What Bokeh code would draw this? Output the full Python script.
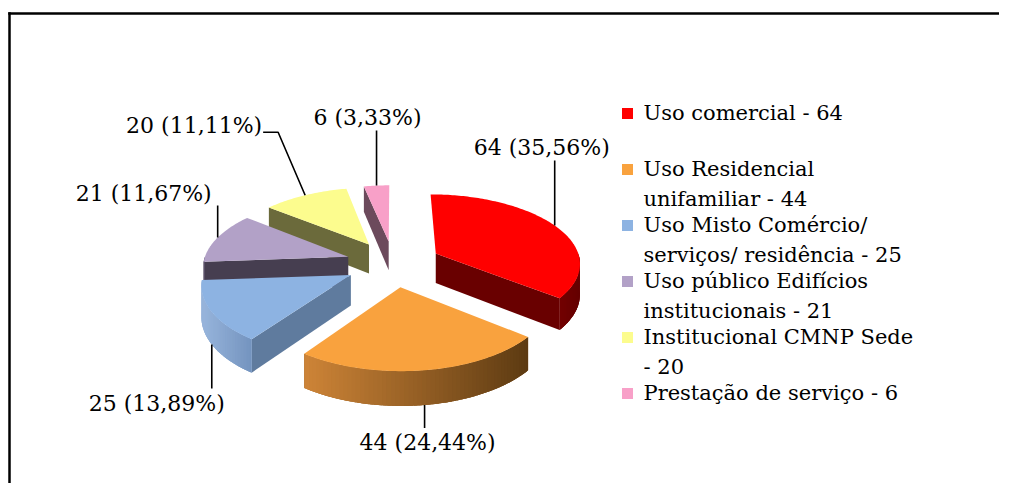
import math
from bokeh.plotting import figure
from bokeh.models import Range1d, ColumnDataSource
from bokeh.core.properties import value
from bokeh.embed import file_html
from bokeh.resources import INLINE

# ---------------- data ----------------
categories = ["Uso comercial", "Uso Residencial unifamiliar",
              "Uso Misto Comércio/ serviços/ residência",
              "Uso público Edifícios institucionais",
              "Institucional CMNP Sede", "Prestação de serviço"]
values = [64, 44, 25, 21, 20, 6]
legend_labels = ["Uso comercial - 64",
                 "Uso Residencial\nunifamiliar - 44",
                 "Uso Misto Comércio/\nserviços/ residência - 25",
                 "Uso público Edifícios\ninstitucionais - 21",
                 "Institucional CMNP Sede\n- 20",
                 "Prestação de serviço - 6"]
top_colors = ["#FF0000", "#F9A23E", "#8DB3E2", "#B2A1C7", "#FCFC8E", "#F8A0C8"]
radial_colors = ["#690000", "#7A4C1C", "#5F7B9E", "#463E50", "#6B6A3B", "#6C4A5C"]
outer_left = ["#720000", "#CD8437", "#98B5DC", "#5A5068", "#6B6A3B", "#6C4A5C"]
outer_right = ["#640000", "#5C3A12", "#7393BE", "#5A5068", "#6B6A3B", "#6C4A5C"]

# ---------------- layout ----------------
W, H = 999, 483
FONT = value("DejaVu Serif")
FS_LAB = "22px"
FS_LEG = "21px"
CX, CY = 393.0, 263.0
RX, RY = 145.0, 70.0
K = 0.12
EXPL = 0.33
DEPTH = 30.0

p = figure(width=W, height=H, x_range=Range1d(0, W), y_range=Range1d(H, 0),
           toolbar_location=None, output_backend="svg", min_border=0,
           x_axis_location=None, y_axis_location=None)
p.grid.visible = False
p.outline_line_color = None
p.background_fill_color = "white"

# frame (open to right/bottom as in picture)
p.segment(x0=[9, 9], y0=[H, 13], x1=[9, W], y1=[13, 13],
          line_color="black", line_width=2.5, line_cap="square")


def proj(u, v):
    s = 1 + K * v
    return CX + RX * u * s, CY + RY * v * s, s


def hex2rgb(h):
    h = h.lstrip("#")
    return tuple(int(h[i:i + 2], 16) for i in (0, 2, 4))


def lerp(c1, c2, t):
    a, b = hex2rgb(c1), hex2rgb(c2)
    return "#%02x%02x%02x" % tuple(int(round(a[i] + (b[i] - a[i]) * t)) for i in range(3))


total = float(sum(values))
slices = []
acc = 0.0
for i, v in enumerate(values):
    t1 = acc / total * 360.0
    acc += v
    t2 = acc / total * 360.0
    m = (t1 + t2) / 2
    ou = EXPL * math.sin(math.radians(m))
    ov = -EXPL * math.cos(math.radians(m))
    slices.append(dict(i=i, t1=t1, t2=t2, m=m, ou=ou, ov=ov))

xs, ys, cols = [], [], []


def top_pt(sl, th, r=1.0):
    u = sl["ou"] + r * math.sin(math.radians(th))
    v = sl["ov"] - r * math.cos(math.radians(th))
    return proj(u, v)


def bot(pt):
    x, y, s = pt
    return x, y + DEPTH * s


for sl in sorted(slices, key=lambda d: d["ov"]):
    i = sl["i"]
    ax, ay, as_ = proj(sl["ou"], sl["ov"])
    abx, aby = bot((ax, ay, as_))
    # radial faces
    for th, vis in ((sl["t1"], math.sin(math.radians(sl["t1"])) < -1e-6),
                    (sl["t2"], math.sin(math.radians(sl["t2"])) > 1e-6)):
        if vis:
            rt = top_pt(sl, th)
            rb = bot(rt)
            xs.append([ax, rt[0], rb[0], abx])
            ys.append([ay, rt[1], rb[1], aby])
            cols.append(radial_colors[i])
    # outer curved face
    lo, hi = max(sl["t1"], 90.0), min(sl["t2"], 270.0)
    if hi > lo:
        n = max(2, int((hi - lo) / 1.5))
        ths = [lo + (hi - lo) * k / n for k in range(n + 1)]
        pts = [top_pt(sl, th) for th in ths]
        bpts = [bot(pt) for pt in pts]
        xs.append([pt[0] for pt in pts] + [b[0] for b in bpts[::-1]])
        ys.append([pt[1] for pt in pts] + [b[1] for b in bpts[::-1]])
        cols.append(lerp(outer_left[i], outer_right[i], 0.5))
        xmin = min(pt[0] for pt in pts)
        xmax = max(pt[0] for pt in pts)
        step = (hi - lo) / n
        for k in range(n):
            a_th = max(lo, ths[k] - 0.4 * step)
            b_th = min(hi, ths[k + 1] + 0.4 * step)
            a, b = top_pt(sl, a_th), top_pt(sl, b_th)
            ba, bb = bot(a), bot(b)
            xs.append([a[0], b[0], bb[0], ba[0]])
            ys.append([a[1], b[1], bb[1], ba[1]])
            t = ((pts[k][0] + pts[k + 1][0]) / 2 - xmin) / max(1e-6, xmax - xmin)
            cols.append(lerp(outer_left[i], outer_right[i], t))
    # top face
    n = max(3, int((sl["t2"] - sl["t1"]) / 1.0))
    tx, ty = [ax], [ay]
    for k in range(n + 1):
        th = sl["t1"] + (sl["t2"] - sl["t1"]) * k / n
        x, y, _ = top_pt(sl, th)
        tx.append(x)
        ty.append(y)
    xs.append(tx)
    ys.append(ty)
    cols.append(top_colors[i])

p.patches(xs="xs", ys="ys", fill_color="c", line_color=None,
          source=ColumnDataSource(dict(xs=xs, ys=ys, c=cols)))

# ---------------- data labels ----------------
labels = ["%d (%s%%)" % (v, ("%.2f" % (v / total * 100)).replace(".", ",")) for v in values]
label_layout = [
    dict(dx=-13, dy=-78, align="center", gap=13),
    dict(dx=3, dy=37, align="center", gap=-14),
    dict(dx=-55, dy=59, align="center", gap=-15),
    dict(dx=-74, dy=-44, align="center", gap=12),
    dict(dx=-43, dy=-70, align="right", gap=0),
    dict(dx=-9, dy=-68, align="center", gap=13),
]
lx, ly, lt, la = [], [], [], []
lead_x, lead_y = [], []
for sl, lab, lay in zip(slices, labels, label_layout):
    pt = top_pt(sl, sl["m"])
    if 90 < sl["m"] < 270:
        ax, ay = bot(pt)
    else:
        ax, ay = pt[0], pt[1]
    tx, ty = ax + lay["dx"], ay + lay["dy"]
    if lay["align"] == "right":
        ex, ey = ax - 27, ty + 7
        lead_x.append([ax, ex, tx + 1])
        lead_y.append([ay, ey, ey])
    else:
        lead_x.append([ax, ax])
        lead_y.append([ay, ty + lay["gap"]])
    lx.append(tx)
    ly.append(ty)
    lt.append(lab)
    la.append(lay["align"])

p.multi_line(xs=lead_x, ys=lead_y, line_color="black", line_width=1.6)
p.text(x="x", y="y", text="t", text_align="a", text_baseline="middle",
       text_font=FONT, text_font_size=FS_LAB, text_color="black",
       source=ColumnDataSource(dict(x=lx, y=ly, t=lt, a=la)))

# ---------------- legend ----------------
LEG_X, LEG_Y0, LEG_STEP, LINE_H = 627.0, 112.0, 56.0, 30.0
sq_x, sq_y = [], []
gx, gy, gt = [], [], []
for k, lab in enumerate(legend_labels):
    y0 = LEG_Y0 + k * LEG_STEP
    sq_x.append(LEG_X)
    sq_y.append(y0 + 1)
    for j, line in enumerate(lab.split("\n")):
        gx.append(LEG_X + 16)
        gy.append(y0 + j * LINE_H)
        gt.append(line)
p.rect(x=sq_x, y=sq_y, width=11, height=11, fill_color=top_colors, line_color=None)
p.text(x=gx, y=gy, text=gt, text_align="left", text_baseline="middle",
       text_font=FONT, text_font_size=FS_LEG, text_color="black")

open("out.html", "w").write(file_html(p, INLINE))
